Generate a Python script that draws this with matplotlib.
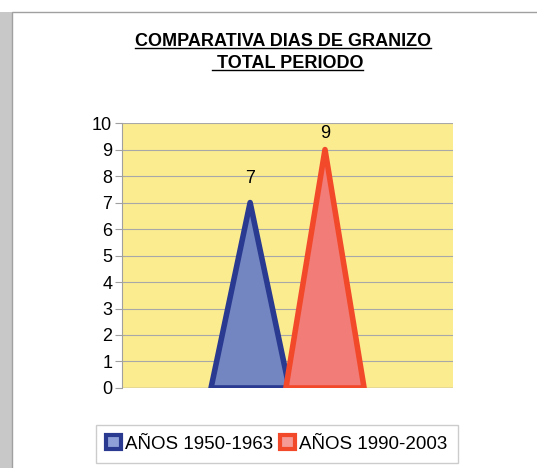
import numpy as np
import matplotlib.pyplot as plt
from matplotlib.patches import Polygon, Rectangle

plt.rcParams['font.family'] = ['Liberation Sans', 'DejaVu Sans']

# datos
series = ['AÑOS 1950-1963', 'AÑOS 1990-2003']
valores = [7, 9]
relleno = ['#7386c2', '#f27c78']
borde = ['#2a3a90', '#f2492b']
centros = [0.387, 0.613]
semiancho = 0.118

fig = plt.figure(figsize=(5.37, 4.68), dpi=100)
fig.patch.set_facecolor('white')

# marco con sombra a la izquierda
fig.add_artist(Rectangle((0, 0), 0.022, 0.975, transform=fig.transFigure,
                         facecolor='#c8c8c8', edgecolor='none', zorder=-10))
fig.add_artist(Rectangle((0.022, -0.01), 1.0, 0.985, transform=fig.transFigure,
                         facecolor='white', edgecolor='#a0a0a0', lw=1.0, zorder=-9))

ax = fig.add_axes([0.227, 0.171, 0.617, 0.566])
ax.set_facecolor('#fbec90')
ax.set_xlim(0, 1)
ax.set_ylim(0, 10)
ax.set_yticks(range(0, 11))
ax.set_xticks([])
ax.yaxis.grid(True, color='#a8a8a8', lw=0.8)
ax.set_axisbelow(True)
for s in ['top', 'right', 'bottom']:
    ax.spines[s].set_visible(False)
ax.spines['left'].set_color('#a0a0a0')
ax.tick_params(axis='y', length=5, color='#a0a0a0', labelsize=13, pad=2)
ax.axhline(0, color='#a0a0a0', lw=1)

handles = []
for i, (c, v, f, b) in enumerate(zip(centros, valores, relleno, borde)):
    tri = Polygon([[c - semiancho, 0], [c, v], [c + semiancho, 0]], closed=True,
                  facecolor=f, edgecolor=b, lw=4, joinstyle='round', zorder=3)
    ax.add_patch(tri)
    ax.text(c, min(v + 0.9, 9.6), str(v), ha='center', va='center', fontsize=13, zorder=4)
    handles.append(Rectangle((0, 0), 1, 1, facecolor=['#8fa0d8', '#f59a94'][i],
                             edgecolor=b, lw=3))

# titulo subrayado
t1 = fig.text(0.527, 0.912, 'COMPARATIVA DIAS DE GRANIZO', ha='center', va='center',
              fontsize=13, fontweight='bold')
t2 = fig.text(0.535, 0.865, ' TOTAL PERIODO', ha='center', va='center',
              fontsize=13, fontweight='bold')
fig.canvas.draw()
r = fig.canvas.get_renderer()
for t in [t1, t2]:
    bb = t.get_window_extent(r).transformed(fig.transFigure.inverted())
    fig.add_artist(plt.Line2D([bb.x0, bb.x1], [bb.y0 + 0.004, bb.y0 + 0.004],
                              transform=fig.transFigure, color='black', lw=1))

leg = fig.legend(handles, series, loc='center', bbox_to_anchor=(0.515, 0.052),
                 ncol=2, frameon=True, fancybox=False, fontsize=13.5,
                 handlelength=0.8, handleheight=0.8, handletextpad=0.2,
                 columnspacing=0.4, borderpad=0.55)
leg.get_frame().set_edgecolor('#c0c0c0')

fig.savefig('out.png', dpi=100)
